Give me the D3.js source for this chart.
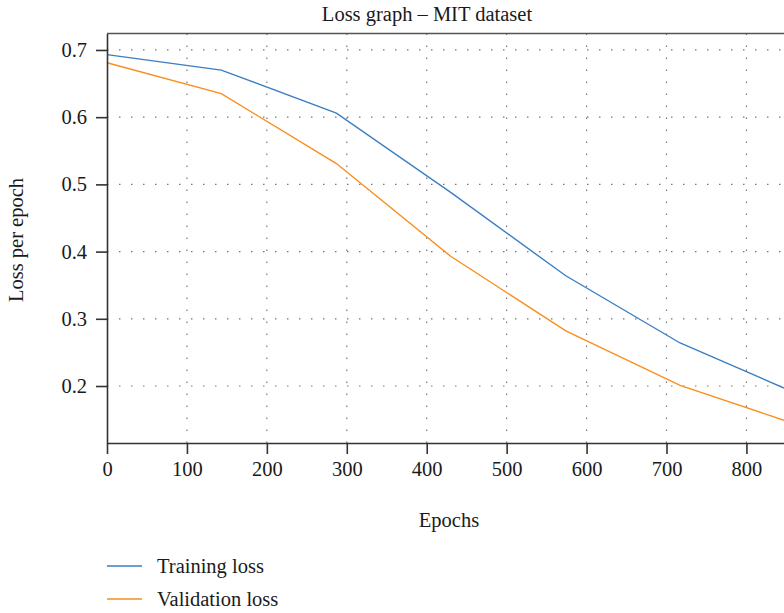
<!DOCTYPE html>
<html>
<head>
<meta charset="utf-8">
<script src="https://cdn.jsdelivr.net/npm/d3@7"></script>
<style>
  body { margin: 0; background: #fff; }
  svg { display: block; font-family: "Liberation Serif", "DejaVu Serif", serif; }
</style>
</head>
<body>
<svg id="chart" width="784" height="613"></svg>
<script>
// values
const epochs = [0, 143, 287, 430, 574, 717, 847];
const trainingLoss = [0.693, 0.670, 0.606, 0.488, 0.364, 0.264, 0.197];
const validationLoss = [0.681, 0.635, 0.531, 0.393, 0.282, 0.201, 0.149];
const xTicks = [0, 100, 200, 300, 400, 500, 600, 700, 800];
const yTicks = [0.2, 0.3, 0.4, 0.5, 0.6, 0.7];
const seriesNames = ["Training loss", "Validation loss"];
const colors = ["#3b7fc2", "#f98e1f"];

const fontSize = "20.5px";
const svg = d3.select("#chart");
const margin = { top: 33.5, right: 0, bottom: 170, left: 107 };
const width = 784 - margin.left - margin.right;
const height = 613 - margin.top - margin.bottom;

const x = d3.scaleLinear().domain([0, 847]).range([0, width]);
const y = d3.scaleLinear().domain([0.1152, 0.7245]).range([height, 0]);

const g = svg.append("g").attr("transform", `translate(${margin.left},${margin.top})`);

// dotted grid
g.append("g")
  .selectAll("line")
  .data(yTicks)
  .join("line")
  .attr("x1", 0)
  .attr("x2", width)
  .attr("y1", d => y(d))
  .attr("y2", d => y(d))
  .attr("stroke", "#777")
  .attr("stroke-width", 1.2)
  .attr("stroke-dasharray", "1.5,10.5");

g.append("g")
  .selectAll("line")
  .data(xTicks.slice(1))
  .join("line")
  .attr("x1", d => x(d))
  .attr("x2", d => x(d))
  .attr("y1", 0)
  .attr("y2", height)
  .attr("stroke", "#777")
  .attr("stroke-width", 1.2)
  .attr("stroke-dasharray", "1.5,10.5");

// lines
const line = d3.line().x((d, i) => x(epochs[i])).y(d => y(d));
[trainingLoss, validationLoss].forEach((values, i) => {
  g.append("path")
    .datum(values)
    .attr("fill", "none")
    .attr("stroke", colors[i])
    .attr("stroke-width", 1.4)
    .attr("d", line);
});

// axes
const xAxis = g.append("g")
  .attr("transform", `translate(0,${height})`)
  .call(d3.axisBottom(x).tickValues(xTicks).tickSize(11).tickPadding(7).tickSizeOuter(0));
const yAxis = g.append("g")
  .call(d3.axisLeft(y).tickValues(yTicks).tickFormat(d3.format(".1f")).tickSize(11).tickPadding(9).tickSizeOuter(0));

[xAxis, yAxis].forEach(a => {
  a.attr("font-size", null).attr("font-family", null);
  a.select(".domain").attr("stroke", "#333").attr("stroke-width", 1.6);
  a.selectAll(".tick line").attr("stroke", "#333").attr("stroke-width", 1.6);
  a.selectAll(".tick text")
    .attr("fill", "#1a1a1a")
    .attr("font-size", fontSize);
});

// top frame line
g.append("line")
  .attr("x1", 0)
  .attr("x2", width)
  .attr("y1", 0)
  .attr("y2", 0)
  .attr("stroke", "#555")
  .attr("stroke-width", 1.6);

// title and axis labels
svg.append("text")
  .attr("x", 427)
  .attr("y", 21)
  .attr("text-anchor", "middle")
  .attr("font-size", fontSize)
  .attr("fill", "#1a1a1a")
  .text("Loss graph \u2013 MIT dataset");

svg.append("text")
  .attr("x", 449)
  .attr("y", 527)
  .attr("text-anchor", "middle")
  .attr("font-size", fontSize)
  .attr("fill", "#1a1a1a")
  .text("Epochs");

svg.append("text")
  .attr("transform", "translate(23,240) rotate(-90)")
  .attr("text-anchor", "middle")
  .attr("font-size", fontSize)
  .attr("fill", "#1a1a1a")
  .text("Loss per epoch");

// legend
const legend = svg.append("g").attr("transform", "translate(107,566)");
seriesNames.forEach((name, i) => {
  const row = legend.append("g").attr("transform", `translate(0,${i * 33})`);
  row.append("line")
    .attr("x1", 0)
    .attr("x2", 35)
    .attr("stroke", colors[i])
    .attr("stroke-width", 1.4);
  row.append("text")
    .attr("x", 50)
    .attr("dy", "0.33em")
    .attr("font-size", fontSize)
    .attr("fill", "#1a1a1a")
    .text(name);
});
</script>
</body>
</html>
